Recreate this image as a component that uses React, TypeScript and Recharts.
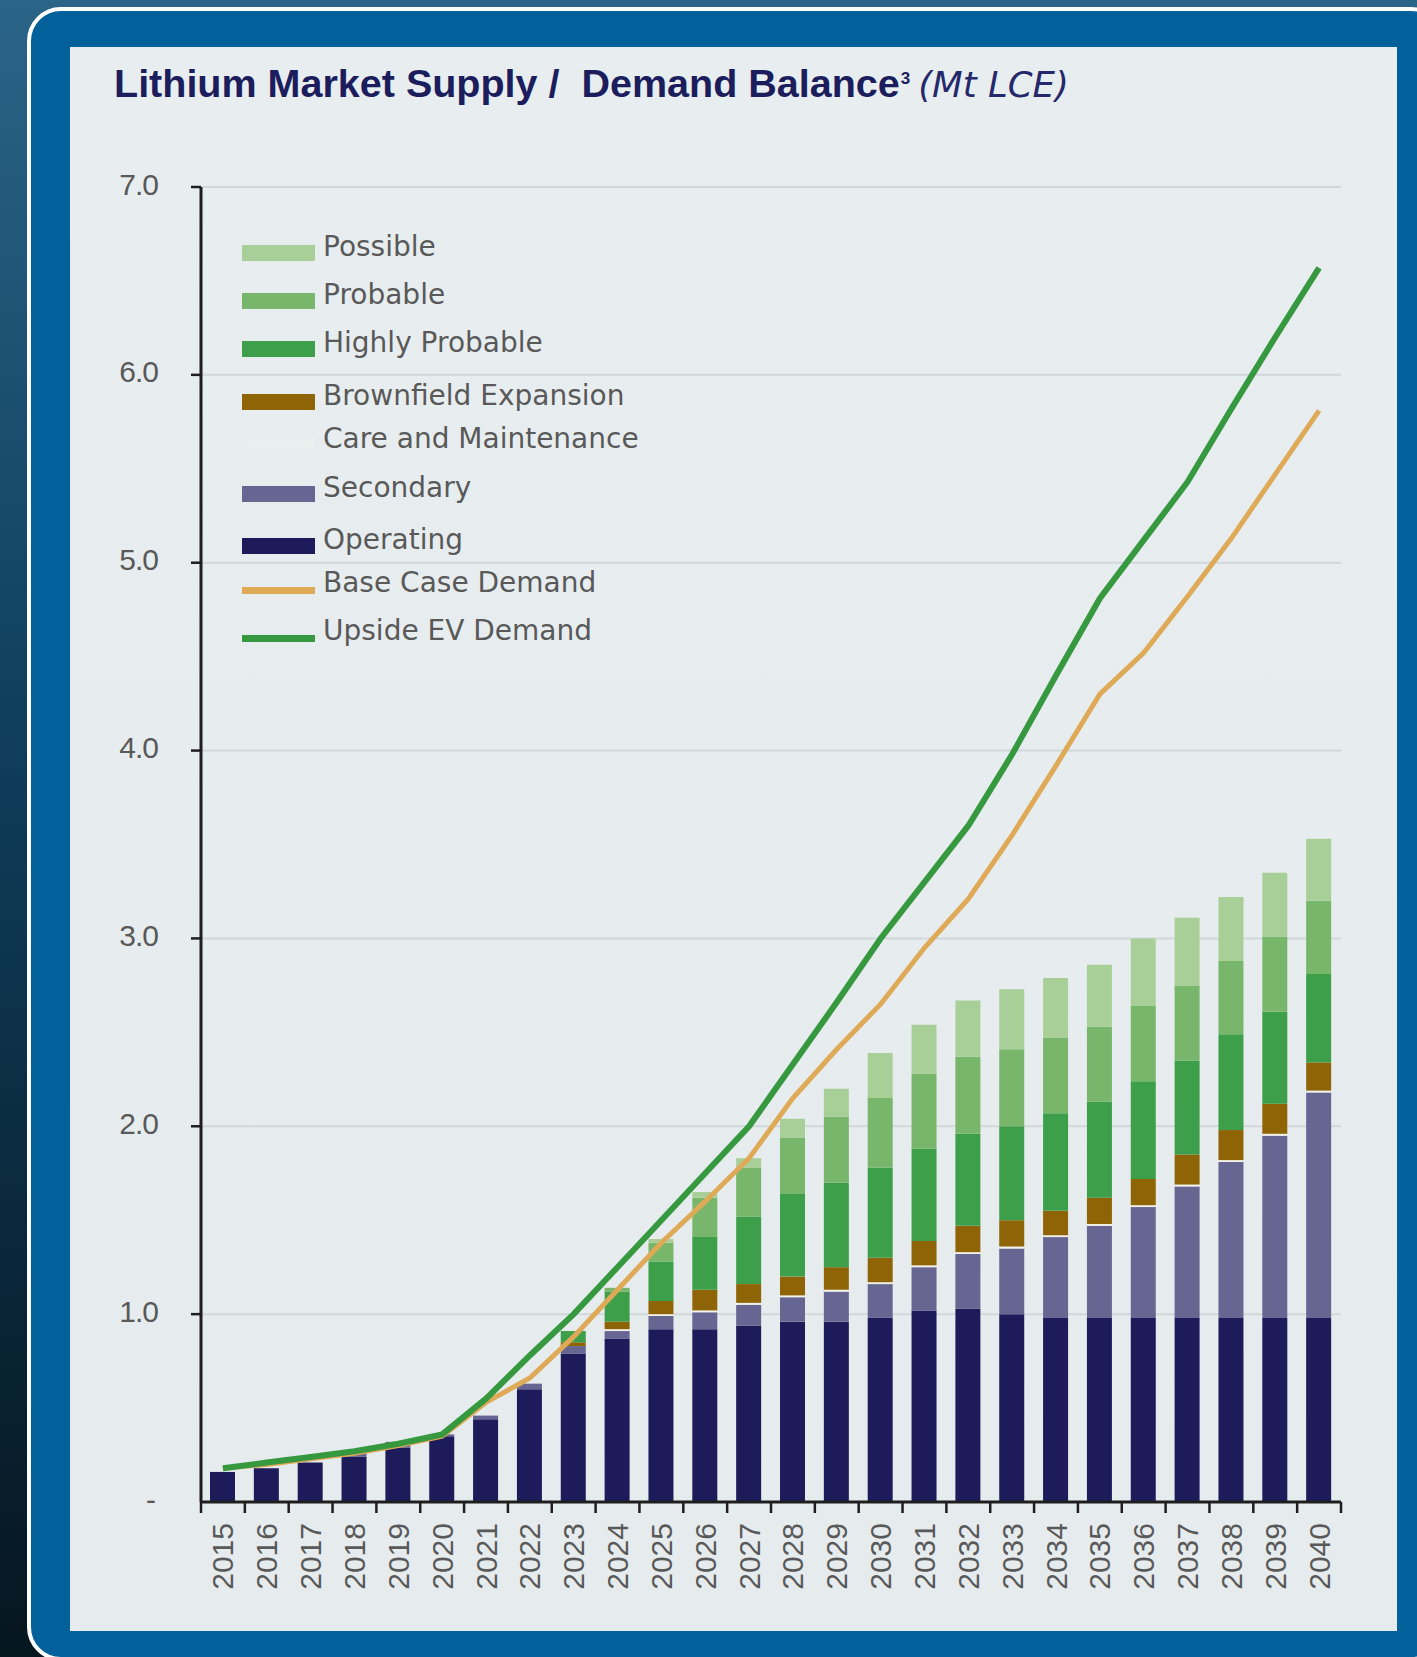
import { Bar, CartesianGrid, ComposedChart, Line, XAxis, YAxis } from 'recharts'

// Mt LCE
const years = [
  '2015', '2016', '2017', '2018', '2019', '2020', '2021', '2022', '2023', '2024', '2025', '2026', '2027',
  '2028', '2029', '2030', '2031', '2032', '2033', '2034', '2035', '2036', '2037', '2038', '2039', '2040',
]
const operating = [
  0.16, 0.18, 0.21, 0.24, 0.29, 0.35, 0.44, 0.6, 0.79, 0.87, 0.92, 0.92, 0.94,
  0.96, 0.96, 0.98, 1.02, 1.03, 1.0, 0.98, 0.98, 0.98, 0.98, 0.98, 0.98, 0.98,
]
const secondary = [
  0, 0, 0, 0.03, 0.03, 0.01, 0.02, 0.03, 0.04, 0.04, 0.07, 0.09, 0.11,
  0.13, 0.16, 0.18, 0.23, 0.29, 0.35, 0.43, 0.49, 0.59, 0.7, 0.83, 0.97, 1.2,
]
const careMaintenance = [
  0, 0, 0, 0, 0, 0, 0, 0, 0, 0.01, 0.01, 0.01, 0.01,
  0.01, 0.01, 0.01, 0.01, 0.01, 0.01, 0.01, 0.01, 0.01, 0.01, 0.01, 0.01, 0.01,
]
const brownfield = [
  0, 0, 0, 0, 0, 0, 0, 0, 0.02, 0.04, 0.07, 0.11, 0.1,
  0.1, 0.12, 0.13, 0.13, 0.14, 0.14, 0.13, 0.14, 0.14, 0.16, 0.16, 0.16, 0.15,
]
const highlyProbable = [
  0, 0, 0, 0, 0, 0, 0, 0, 0.06, 0.16, 0.21, 0.28, 0.36,
  0.44, 0.45, 0.48, 0.49, 0.49, 0.5, 0.52, 0.51, 0.52, 0.5, 0.51, 0.49, 0.47,
]
const probable = [
  0, 0, 0, 0, 0, 0, 0, 0, 0, 0.02, 0.1, 0.21, 0.26,
  0.3, 0.35, 0.37, 0.4, 0.41, 0.41, 0.4, 0.4, 0.4, 0.4, 0.39, 0.4, 0.39,
]
const possible = [
  0, 0, 0, 0, 0, 0, 0, 0, 0, 0, 0.02, 0.03, 0.05,
  0.1, 0.15, 0.24, 0.26, 0.3, 0.32, 0.32, 0.33, 0.36, 0.36, 0.34, 0.34, 0.33,
]
const baseCaseDemand = [
  0.18, 0.2, 0.23, 0.26, 0.3, 0.35, 0.53, 0.66, 0.88, 1.13, 1.38, 1.6, 1.83,
  2.15, 2.41, 2.65, 2.95, 3.21, 3.55, 3.92, 4.3, 4.52, 4.82, 5.13, 5.47, 5.81,
]
const upsideEvDemand = [
  0.18, 0.21, 0.24, 0.27, 0.31, 0.36, 0.55, 0.78, 1.0, 1.25, 1.5, 1.75, 2.0,
  2.33, 2.66, 3.0, 3.3, 3.6, 3.98, 4.4, 4.81, 5.12, 5.43, 5.82, 6.2, 6.57,
]
const yTicks = [0, 1, 2, 3, 4, 5, 6, 7]

const chartData = years.map((year, i) => ({
  year,
  operating: operating[i],
  secondary: secondary[i],
  careMaintenance: careMaintenance[i],
  brownfield: brownfield[i],
  highlyProbable: highlyProbable[i],
  probable: probable[i],
  possible: possible[i],
  baseCase: baseCaseDemand[i],
  upside: upsideEvDemand[i],
}))

const colors = {
  possible: '#a9cf98',
  probable: '#78b66b',
  highlyProbable: '#3e9f4a',
  brownfield: '#8e6406',
  careMaintenance: '#f3f1e8',
  secondary: '#676592',
  operating: '#1d1b5a',
  baseCase: '#dfaa58',
  upside: '#36983f',
}

const legendItems = [
  { name: 'Possible', color: colors.possible, kind: 'box' },
  { name: 'Probable', color: colors.probable, kind: 'box' },
  { name: 'Highly Probable', color: colors.highlyProbable, kind: 'box' },
  { name: 'Brownfield Expansion', color: colors.brownfield, kind: 'box' },
  { name: 'Care and Maintenance', color: '#e9eeef', kind: 'box' },
  { name: 'Secondary', color: colors.secondary, kind: 'box' },
  { name: 'Operating', color: colors.operating, kind: 'box' },
  { name: 'Base Case Demand', color: colors.baseCase, kind: 'line' },
  { name: 'Upside EV Demand', color: colors.upside, kind: 'line' },
]
// legend rows are not evenly spaced in the original
const legendRowTop = [0, 48, 96, 149, 192, 241, 293, 336, 384]

const W = 1417
const H = 1657
const PLOT_LEFT = 201
const PLOT_RIGHT = 1341
const PLOT_TOP = 187
const PLOT_BOTTOM = 1502
const band = (PLOT_RIGHT - PLOT_LEFT) / years.length
const axisColor = '#1e1e1e'
const labelColor = '#595959'

function YearTick({ x, y, payload, index }: any) {
  const left = x - band / 2
  return (
    <g>
      <line x1={left} x2={left} y1={y} y2={y + 11} stroke={axisColor} strokeWidth={2.5} />
      {index === years.length - 1 && (
        <line x1={x + band / 2} x2={x + band / 2} y1={y} y2={y + 11} stroke={axisColor} strokeWidth={2.5} />
      )}
      <text
        transform={`translate(${x},${y + 21}) rotate(-90)`}
        textAnchor="end"
        dominantBaseline="central"
        fontFamily="'Liberation Sans', Arial, sans-serif"
        fontSize={30}
        fill={labelColor}
      >
        {payload.value}
      </text>
    </g>
  )
}

function ValueTick({ x, y, payload }: any) {
  const v = payload.value as number
  return (
    <g>
      {v > 0 && <line x1={x - 10} x2={x} y1={y} y2={y} stroke={axisColor} strokeWidth={2.5} />}
      <text
        x={v === 0 ? x - 46 : x - 43}
        y={y - 3}
        textAnchor="end"
        dominantBaseline="central"
        fontFamily="'Liberation Sans', Arial, sans-serif"
        fontSize={30}
        letterSpacing={-1}
        fill={labelColor}
      >
        {v === 0 ? '-' : v.toFixed(1)}
      </text>
    </g>
  )
}

function ChartLegend() {
  return (
    <div style={{ position: 'absolute', left: 242, top: 223, fontFamily: "'DejaVu Sans', Verdana, sans-serif" }}>
      {legendItems.map((item, i) => (
        <div key={item.name} style={{ position: 'absolute', top: legendRowTop[i], left: 0, height: 48, width: 420 }}>
          <div
            style={{
              position: 'absolute',
              left: 0,
              width: 73,
              top: item.kind === 'box' ? 22 : 28,
              height: item.kind === 'box' ? 16 : 7,
              background: item.color,
            }}
          />
          <div
            style={{
              position: 'absolute',
              left: 81,
              top: 0,
              lineHeight: '48px',
              fontSize: 28,
              color: labelColor,
              whiteSpace: 'nowrap',
            }}
          >
            {item.name}
          </div>
        </div>
      ))}
    </div>
  )
}

export default function App() {
  return (
    <div
      style={{
        position: 'relative',
        width: W,
        height: H,
        overflow: 'hidden',
        background: 'linear-gradient(180deg, #2a6487 0%, #0f3d5b 45%, #06161f 100%)',
      }}
    >
      <style>{'body{margin:0}'}</style>
      <div
        style={{
          position: 'absolute',
          left: 27,
          top: 7,
          width: 1410,
          height: 1646,
          border: '4px solid #ffffff',
          borderRadius: 34,
          background: '#02619a',
        }}
      />
      <div
        style={{
          position: 'absolute',
          left: 70,
          top: 47,
          width: 1327,
          height: 1584,
          background: 'linear-gradient(180deg, #e8eef0 0%, #e6ecee 100%)',
        }}
      />
      <div
        style={{
          position: 'absolute',
          left: 114,
          top: 64,
          whiteSpace: 'nowrap',
          lineHeight: 1,
          color: '#1b1d5c',
        }}
      >
        <span style={{ fontFamily: "'Liberation Sans', Arial, sans-serif", fontWeight: 700, fontSize: 39.5 }}>
          Lithium Market Supply /&nbsp; Demand Balance
        </span>
        <span
          style={{
            fontFamily: "'Liberation Sans', Arial, sans-serif",
            fontWeight: 700,
            fontSize: 17,
            position: 'relative',
            top: -13,
            marginLeft: 1,
          }}
        >
          3
        </span>
        <span
          style={{
            fontFamily: "'DejaVu Sans', Verdana, sans-serif",
            fontStyle: 'italic',
            fontSize: 35.5,
            marginLeft: 8,
            color: '#25286a',
          }}
        >
          (Mt LCE)
        </span>
      </div>
      <div style={{ position: 'absolute', left: 0, top: 0 }}>
        <ComposedChart
          width={W}
          height={H}
          data={chartData}
          margin={{ top: PLOT_TOP, right: W - PLOT_RIGHT, bottom: 0, left: 0 }}
          barSize={25}
        >
          <CartesianGrid vertical={false} stroke="#d2d7d9" strokeWidth={2} />
          <XAxis
            dataKey="year"
            interval={0}
            height={H - PLOT_BOTTOM}
            tickSize={0}
            tickMargin={0}
            tickLine={false}
            axisLine={{ stroke: axisColor, strokeWidth: 3 }}
            tick={<YearTick />}
          />
          <YAxis
            type="number"
            domain={[0, 7]}
            ticks={yTicks}
            width={PLOT_LEFT}
            tickSize={0}
            tickMargin={0}
            tickLine={false}
            axisLine={{ stroke: axisColor, strokeWidth: 3 }}
            tick={<ValueTick />}
            allowDataOverflow
          />
          <Bar dataKey="operating" stackId="s" fill={colors.operating} isAnimationActive={false} />
          <Bar dataKey="secondary" stackId="s" fill={colors.secondary} isAnimationActive={false} />
          <Bar dataKey="careMaintenance" stackId="s" fill={colors.careMaintenance} isAnimationActive={false} />
          <Bar dataKey="brownfield" stackId="s" fill={colors.brownfield} isAnimationActive={false} />
          <Bar dataKey="highlyProbable" stackId="s" fill={colors.highlyProbable} isAnimationActive={false} />
          <Bar dataKey="probable" stackId="s" fill={colors.probable} isAnimationActive={false} />
          <Bar dataKey="possible" stackId="s" fill={colors.possible} isAnimationActive={false} />
          <Line
            type="linear"
            dataKey="baseCase"
            stroke={colors.baseCase}
            strokeWidth={5}
            dot={false}
            isAnimationActive={false}
          />
          <Line
            type="linear"
            dataKey="upside"
            stroke={colors.upside}
            strokeWidth={6}
            dot={false}
            isAnimationActive={false}
          />
        </ComposedChart>
      </div>
      <ChartLegend />
    </div>
  )
}
